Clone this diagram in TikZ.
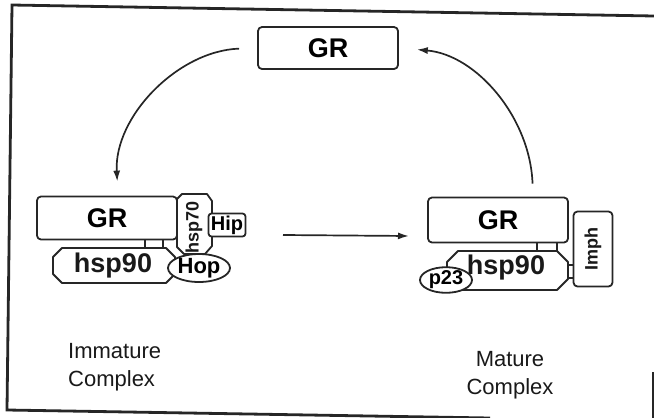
\documentclass[tikz,border=0pt]{standalone}
\usepackage{fontspec}
\setmainfont{Liberation Sans}
\usetikzlibrary{arrows.meta,shapes.geometric}

\tikzset{
  frameline/.style={line width=2.8pt, color=black!85},
  part/.style={draw=black!85, line width=1.8pt, fill=white, line join=round},
  grbox/.style={part, rounded corners=4pt, minimum width=140pt, minimum height=43pt,
                inner sep=0pt, font=\fontsize{27}{30}\selectfont\bfseries},
  txt/.style={inner sep=0pt, text=black!90},
  oval/.style={part, ellipse, inner sep=0pt},
  cyc/.style={draw=black!85, line width=1.7pt, -{Latex[length=11pt,width=7pt]}},
  caption/.style={inner sep=0pt, text=black!90, font=\fontsize{22}{28}\selectfont}
}

\begin{document}
\begin{tikzpicture}[x=1pt, y=-1pt]
  \useasboundingbox (0,0) rectangle (654,418);

  % outer frame
  \draw[frameline] (654,16) -- (12,5) -- (7,410) -- (490,418);
  \draw[frameline] (653,372) -- (653,418);

  % free GR
  \node[grbox, minimum height=42pt] (gtop) at (328,48) {GR};

  % ---------- immature complex ----------
  \draw[part] (182,194) -- (207,194) -- (212,201) -- (212,246) -- (205,254)
              -- (184,254) -- (177,247) -- (177,199) -- cycle;
  \node[txt, rotate=90, font=\fontsize{18}{20}\selectfont\bfseries] (hsp70) at (194,227) {hsp70};
  \draw[part] (145,236) rectangle (163,249);
  \node[grbox] (gl) at (107,218) {GR};
  \draw[part] (62,248) -- (166,248) -- (175,257) -- (175,274) -- (166,283)
              -- (62,283) -- (53,274) -- (53,257) -- cycle;
  \node[txt, font=\fontsize{27}{30}\selectfont\bfseries] (h90l) at (113,266) {hsp90};
  \node[part, rounded corners=3pt, minimum width=37pt, minimum height=23pt, inner sep=0pt,
        font=\fontsize{20}{22}\selectfont\bfseries] (hip) at (227,225) {Hip};
  \node[oval, minimum width=62pt, minimum height=28pt,
        font=\fontsize{22}{24}\selectfont\bfseries] (hop) at (199,268) {Hop};

  % ---------- mature complex ----------
  \draw[part] (537,240) rectangle (557,252);
  \draw[part] (565,265) rectangle (575,278);
  \node[grbox, minimum height=45pt] (gr) at (498,220) {GR};
  \draw[part] (458,251) -- (557,251) -- (568,262) -- (568,279) -- (557,290)
              -- (458,290) -- (447,279) -- (447,262) -- cycle;
  \node[txt, font=\fontsize{27}{30}\selectfont\bfseries] (h90r) at (506,268) {hsp90};
  \node[part, rounded corners=4pt, minimum width=39pt, minimum height=75pt, inner sep=0pt] (imph) at (593,249) {};
  \node[txt, rotate=90, font=\fontsize{18}{20}\selectfont\bfseries] (imphl) at (imph) {Imph};
  \node[oval, minimum width=52pt, minimum height=24pt,
        font=\fontsize{20}{22}\selectfont\bfseries] (p23) at (446,280) {p23};

  % ---------- cycle arrows ----------
  \draw[cyc, shorten <=18pt, shorten >=14pt] (gtop.west) to[out=182, in=93] ([xshift=11pt]gl.north);
  \draw[cyc, shorten <=13pt, shorten >=18pt] ([xshift=35pt]gr.north) to[out=92, in=-5] (gtop.east);
  \coordinate (mstart) at (283,235);
  \coordinate (mend) at (409,236);
  \draw[cyc] (mstart) -- (mend);

  % captions
  \node[caption, anchor=west, align=left] (capl) at (68,367) {Immature\\Complex};
  \node[caption, align=center] (capr) at (510,375) {Mature\\Complex};
\end{tikzpicture}
\end{document}
